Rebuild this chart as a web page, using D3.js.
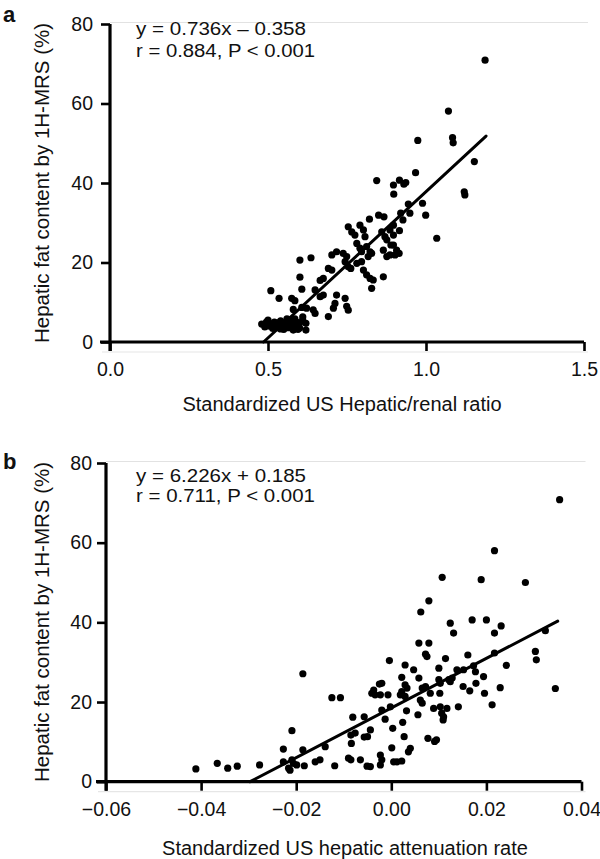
<!DOCTYPE html>
<html><head><meta charset="utf-8">
<script src="https://cdn.jsdelivr.net/npm/d3@7"></script>
<style>
body{margin:0;background:#fff;}
svg text{font-family:"Liberation Sans",Arial,Helvetica,sans-serif;fill:#111;}
</style></head>
<body><svg id="c" width="600" height="859"></svg>
<script>
// ---------- Panel a data ----------
const aXTicks = [0.0, 0.5, 1.0, 1.5];
const aYTicks = [0, 20, 40, 60, 80];
const aX = [0.48,0.49,0.50,0.51,0.52,0.53,0.53,0.54,0.55,0.55,0.56,0.57,0.57,0.58,0.58,0.59,0.59,0.60,0.60,0.56,0.54,0.61,0.62,0.62,0.61,
 0.495,0.515,0.525,0.545,0.565,0.585,0.595,0.505,
 0.509,0.535,0.575,0.585,0.580,0.607,0.601,0.636,0.601,0.607,0.622,0.643,0.649,0.665,0.675,0.691,0.707,0.712,0.717,0.744,0.749,0.754,0.649,0.665,0.675,0.691,0.702,
 0.702,0.717,0.738,0.749,0.744,0.754,0.762,0.781,0.796,0.802,0.812,0.823,0.833,0.828,0.865,
 0.754,0.765,0.775,0.791,0.802,0.807,0.781,0.791,0.796,0.812,0.823,0.828,0.817,
 0.860,0.870,0.876,0.886,0.897,0.865,0.876,0.897,0.907,0.902,0.886,0.915,0.889,0.897,
 0.944,0.949,0.989,0.999,0.920,0.927,0.850,0.867,0.821,0.916,1.034,
 0.844,0.897,0.916,0.930,0.936,0.898,0.967,0.974,1.084,1.086,1.071,1.187,1.153,1.121,1.123];
const aY = [4.5,3.8,5.5,4.2,5.0,3.6,4.8,5.3,4.0,3.2,4.6,5.6,3.8,4.4,3.0,5.0,4.0,4.8,3.5,5.8,3.3,5.5,4.7,3.0,6.3,
 5.0,3.4,4.4,4.2,3.6,5.8,3.2,4.0,
 12.9,11.0,11.0,10.4,8.2,8.7,20.6,21.2,16.3,13.3,8.5,8.1,7.2,11.4,11.8,6.4,8.5,9.7,11.8,11.0,9.0,8.0,13.1,15.5,16.0,18.5,18.1,
 21.9,22.7,22.3,21.5,20.2,18.9,18.5,19.8,20.2,18.1,16.9,16.0,15.6,13.5,16.4,
 29.0,27.7,26.9,29.4,28.2,26.5,24.8,23.6,22.7,24.0,22.7,22.3,21.5,
 27.7,26.5,25.7,28.2,26.9,23.1,21.5,24.4,23.1,21.9,21.9,22.3,24.4,29.4,
 34.7,32.4,34.9,31.9,32.4,30.7,31.9,31.5,30.9,28.0,26.1,
 40.6,39.5,40.7,39.7,40.1,37.2,42.6,50.7,51.4,50.1,58.1,70.9,45.4,37.8,37.0];
const aFitX = [0.486, 1.19];
const aFitY = [0, 51.8];
const aEq = ["y = 0.736x \u2013 0.358", "r = 0.884, P < 0.001"];
const aXLabel = "Standardized US Hepatic/renal ratio";

// ---------- Panel b data ----------
const bXTicks = [-0.06, -0.04, -0.02, 0.00, 0.02, 0.04];
const bYTicks = [0, 20, 40, 60, 80];
const bX = [-0.0411,-0.0366,-0.0344,-0.0324,-0.0277,
 -0.0227,-0.0209,-0.0186,-0.0186,
 -0.0227,-0.0209,-0.0206,-0.0216,-0.0213,-0.0199,-0.0183,
 -0.0160,-0.0150,-0.0139,-0.0125,-0.0107,-0.0119,
 -0.0090,-0.0085,-0.0084,-0.0085,-0.0076,-0.0065,-0.0057,-0.0050,-0.0044,-0.0051,-0.0044,-0.0057,-0.0081,
 -0.0041,-0.0037,-0.0034,-0.0023,-0.0025,-0.0007,-0.0020,
 -0.0020,-0.0002,-0.0013,-0.0023,-0.0020,-0.0023,
 0.0003,0.0001,0.0005,0.0012,0.0022,0.0036,0.0040,0.0027,
 0.0077,0.0091,0.0095,
 -0.0004,0.0029,0.0047,0.0022,0.0058,0.0019,0.0022,0.0029,0.0033,0.0029,
 0.0024,0.0032,0.0056,0.0061,0.0065,0.0065,0.0072,0.0082,0.0102,
 0.0089,0.0103,0.0117,0.0106,0.0110,0.0109,
 0.0100,0.0103,0.0121,0.0128,0.0124,0.0100,0.0114,
 0.0058,0.0079,0.0072,0.0075,
 0.0062,0.0079,0.0107,0.0124,0.0131,0.0170,0.0200,0.0231,0.0217,0.0189,0.0217,0.0282,0.0354,0.0324,
 0.0138,0.0152,0.0161,0.0173,0.0177,0.0194,0.0217,0.0242,0.0303,0.0305,0.0345,0.0229,0.0196,0.0212,0.0178,0.0151,0.0165,0.0141];
const bY = [3.2,4.6,3.4,3.9,4.2,
 8.2,12.8,27.1,8.0,
 5.0,5.5,4.6,3.4,2.9,4.2,4.0,
 5.0,5.5,8.8,21.1,21.1,4.0,
 5.9,5.5,9.6,11.7,12.2,5.5,11.2,11.3,13.0,3.9,3.8,16.3,16.2,
 22.2,23.0,21.8,21.8,24.5,21.8,24.7,
 18.0,18.8,15.7,6.7,5.5,4.2,
 13.4,8.5,5.0,5.0,5.2,7.5,8.4,11.3,
 10.9,10.1,10.5,
 30.4,29.3,28.1,26.2,26.0,21.8,22.6,21.4,23.5,24.3,
 14.9,17.8,16.8,20.5,19.7,23.5,23.9,22.2,22.2,
 18.4,18.8,18.4,17.2,16.3,15.5,
 25.6,24.7,25.6,26.0,25.1,28.5,30.9,
 34.8,34.8,32.0,31.4,
 42.6,45.4,51.3,39.8,37.3,40.6,40.6,39.1,37.3,50.7,58.0,50.0,70.8,37.9,
 28.1,28.1,31.8,29.1,27.6,26.4,32.3,29.2,32.7,30.6,23.4,23.6,22.2,19.3,24.7,23.9,22.8,18.8];
const bFitX = [-0.0297, 0.0350];
const bFitY = [0, 40.3];
const bEq = ["y = 6.226x + 0.185", "r = 0.711, P < 0.001"];
const bXLabel = "Standardized US hepatic attenuation rate";

const yLabel = "Hepatic fat content by 1H-MRS (%)";

const svg = d3.select("#c");

function panel(cfg){
  const g = svg.append("g");
  const x = d3.scaleLinear().domain(cfg.xDomain).range(cfg.xRange);
  const y = d3.scaleLinear().domain([0,80]).range(cfg.yRange);

  // faint scan lines
  g.append("line").attr("x1", cfg.xRange[0]).attr("x2", cfg.xRange[1]+4)
    .attr("y1", cfg.yRange[1]-1.5).attr("y2", cfg.yRange[1]-1.5)
    .attr("stroke","#e2e2e2").attr("stroke-width",1.2);
  g.append("line").attr("x1", cfg.xRange[0]-8).attr("x2", cfg.xRange[1]+4)
    .attr("y1", cfg.yRange[0]+10).attr("y2", cfg.yRange[0]+10)
    .attr("stroke","#e6e6e6").attr("stroke-width",1.2);

  const xAxis = g.append("g").attr("transform",`translate(0,${cfg.yRange[0]})`)
    .call(d3.axisBottom(x).tickValues(cfg.xTicks).tickSize(9).tickSizeOuter(0).tickPadding(11)
      .tickFormat(cfg.xFmt));
  const yAxis = g.append("g").attr("transform",`translate(${cfg.xRange[0]},0)`)
    .call(d3.axisLeft(y).tickValues(cfg.yTicks).tickSize(9).tickSizeOuter(0).tickPadding(cfg.yPad)
      .tickFormat(d3.format("d")));
  [xAxis, yAxis].forEach(ax=>{
    ax.select(".domain").attr("stroke","#000").attr("stroke-width",3.2);
    ax.selectAll(".tick line").attr("stroke","#000").attr("stroke-width",2.6);
    ax.selectAll(".tick text").attr("font-size",19.5).attr("fill","#111")
      .attr("font-family","Liberation Sans, Arial, sans-serif");
  });
  xAxis.select(".domain").attr("d",`M${cfg.xRange[0]-10},0H${cfg.xRange[1]}`);
  yAxis.select(".domain").attr("d",`M0,${cfg.yRange[1]}V${cfg.yRange[0]+9}`);

  // dots
  g.append("g").selectAll("circle").data(d3.range(cfg.xs.length)).join("circle")
    .attr("cx", i=>x(cfg.xs[i])).attr("cy", i=>y(cfg.ys[i])).attr("r",3.6).attr("fill","#000");

  // fit line
  g.append("line").attr("x1",x(cfg.fitX[0])).attr("y1",y(cfg.fitY[0]))
    .attr("x2",x(cfg.fitX[1])).attr("y2",y(cfg.fitY[1]))
    .attr("stroke","#000").attr("stroke-width",3).attr("stroke-linecap","round");

  // equation
  cfg.eq.forEach((t,i)=>{
    g.append("text").attr("x",cfg.eqX).attr("y",cfg.eqY[i]).attr("font-size",18)
      .attr("textLength",cfg.eqW[i]).attr("lengthAdjust","spacingAndGlyphs").text(t);
  });

  // axis labels
  g.append("text").attr("x",cfg.xLabelX).attr("y",cfg.xLabelY).attr("text-anchor","middle")
    .attr("font-size",20).text(cfg.xLabel);
  g.append("text").attr("transform",`translate(${cfg.yLabelX},${cfg.yLabelY}) rotate(-90)`)
    .attr("text-anchor","middle").attr("font-size",20.5).text(yLabel);

  // panel letter
  g.append("text").attr("x",3).attr("y",cfg.letterY).attr("font-size",22).attr("font-weight","bold")
    .text(cfg.letter);
}

panel({xDomain:[0,1.5], xRange:[110,584], yRange:[342,24], xTicks:aXTicks, yTicks:aYTicks, yPad:8,
  xFmt:d3.format(".1f"), xs:aX, ys:aY, fitX:aFitX, fitY:aFitY, eq:aEq, eqX:136, eqY:[35,57], eqW:[170,179],
  xLabel:aXLabel, xLabelX:342, xLabelY:411, yLabelX:49, yLabelY:183, letter:"a", letterY:22});

panel({xDomain:[-0.06,0.04], xRange:[106,581.5], yRange:[781.7,463], xTicks:bXTicks, yTicks:bYTicks, yPad:5,
  xFmt:d=>d3.format(".2f")(d).replace("-","\u2212"), xs:bX, ys:bY, fitX:bFitX, fitY:bFitY, eq:bEq, eqX:136, eqY:[481.7,502], eqW:[170,179],
  xLabel:bXLabel, xLabelX:345, xLabelY:855, yLabelX:49, yLabelY:622, letter:"b", letterY:469});
</script></body></html>
